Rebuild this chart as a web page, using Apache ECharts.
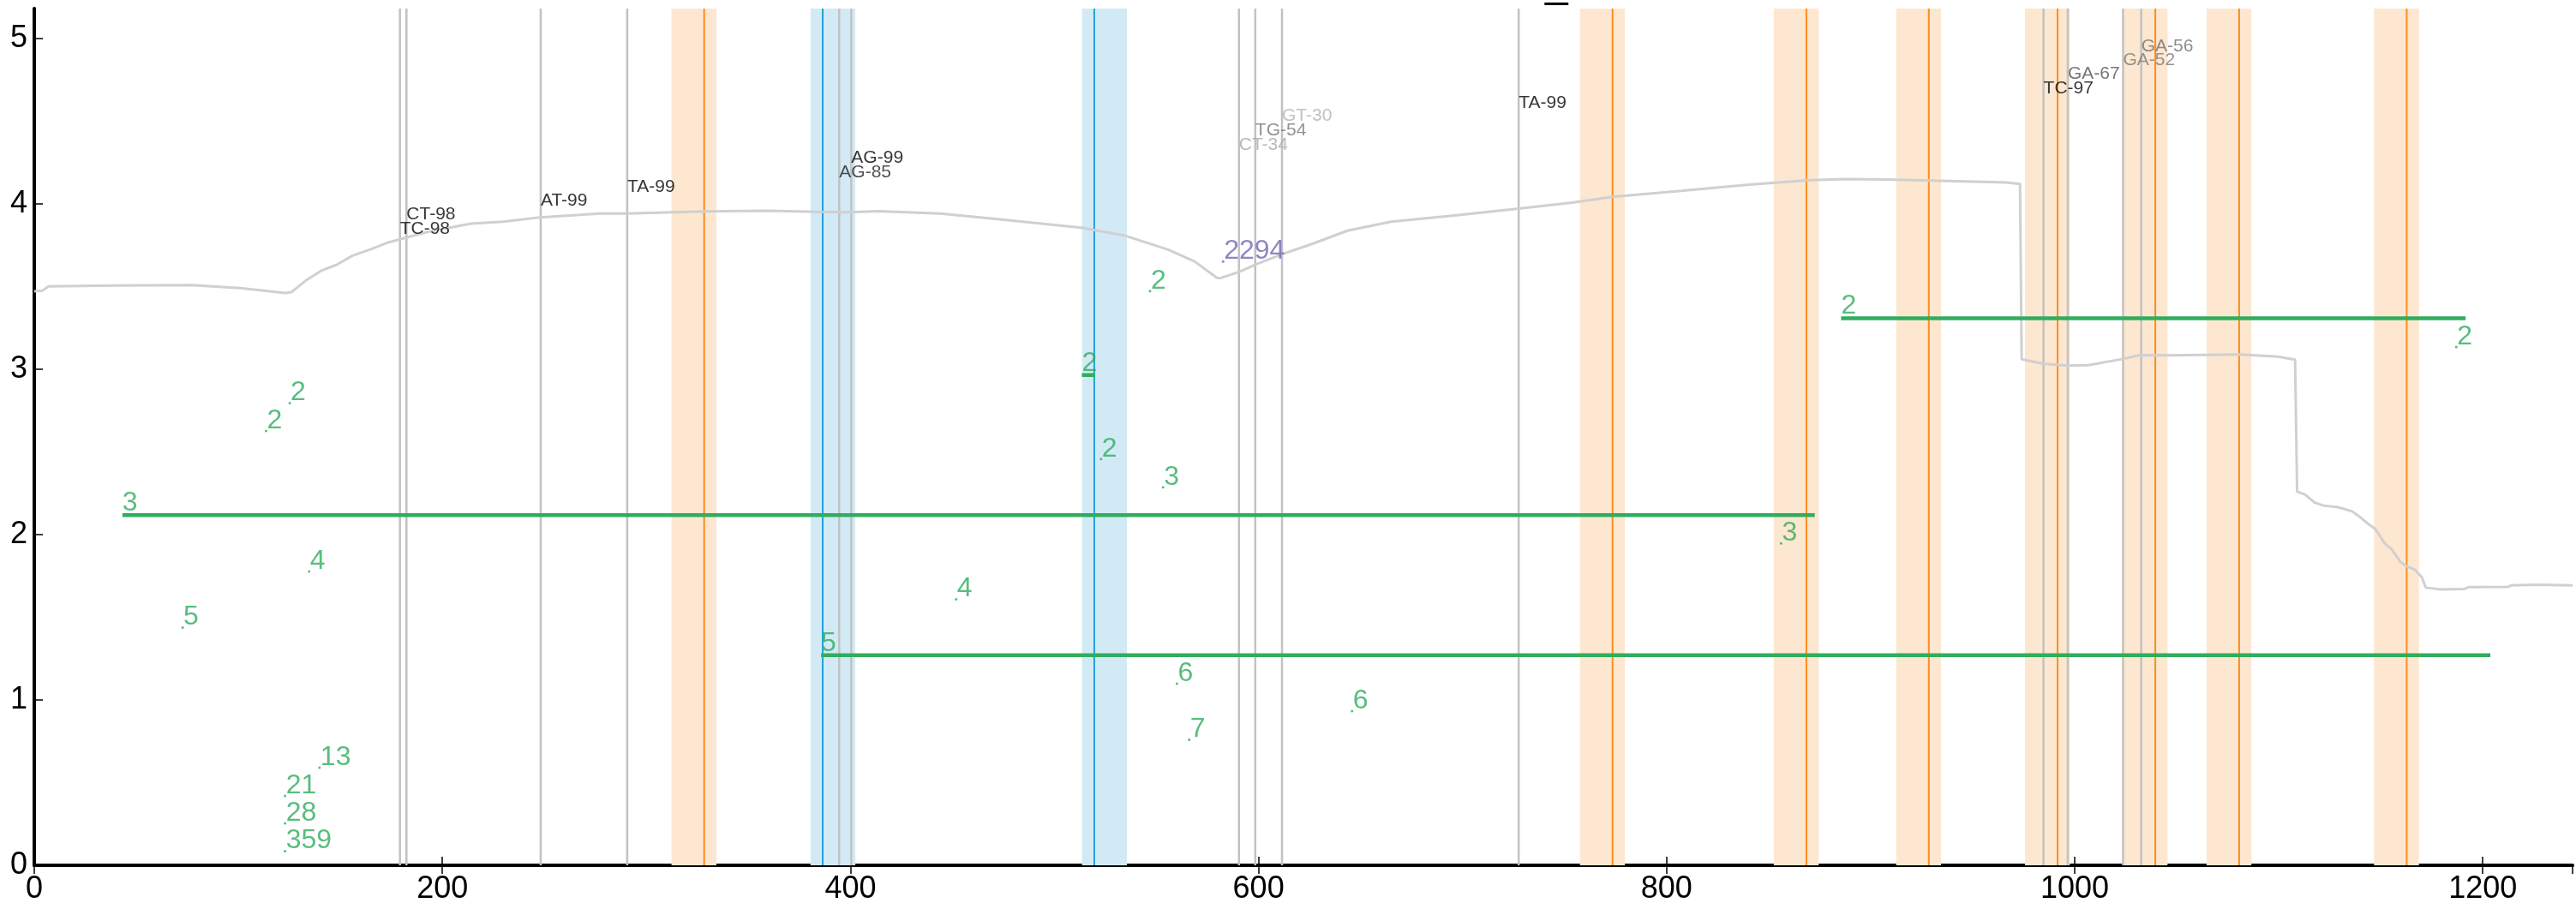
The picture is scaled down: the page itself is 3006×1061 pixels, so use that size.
<!DOCTYPE html>
<html><head><meta charset="utf-8">
<script src="https://cdn.jsdelivr.net/npm/echarts@6/dist/echarts.min.js"></script>
<style>html,body{margin:0;padding:0;background:#fff}#c{width:3006px;height:1061px}</style>
</head><body><div id="c"></div>
<script>
// ---------- data ----------
const xTickValues = [0, 200, 400, 600, 800, 1000, 1200];
const yTickValues = [0, 1, 2, 3, 4, 5];
const X_MAX = 1244, Y_MAX = 5.18;

// grey coverage-like curve
const curveX = [0, 4, 7, 40, 77, 101, 123, 126, 133, 141, 148, 156, 165, 173.5, 182, 193, 214, 230, 248, 277, 290.6, 328, 359, 384.6, 399, 414, 444, 470, 491.5, 513, 534.6, 556, 568.8, 579.6, 581, 590.5, 598.7, 611.6, 626.5, 643.6, 665, 697, 727.5, 753.7, 773.5, 807.2, 839.3, 868.5, 886.5, 907.5, 930, 966.8, 973.2, 974, 984.9, 996.3, 1006.6, 1023.8, 1031.8, 1046.7, 1081, 1099.4, 1108, 1109, 1113, 1117.6, 1122, 1129, 1136, 1140.5, 1144, 1147.3, 1151.9, 1155.3, 1159.9, 1163.3, 1166.8, 1170.2, 1172, 1179.4, 1190.8, 1193, 1212.5, 1214, 1226.3, 1244];
const curveY = [3.47, 3.475, 3.5, 3.505, 3.508, 3.49, 3.46, 3.465, 3.535, 3.597, 3.63, 3.686, 3.725, 3.766, 3.794, 3.83, 3.88, 3.891, 3.918, 3.941, 3.941, 3.953, 3.958, 3.951, 3.948, 3.955, 3.941, 3.909, 3.882, 3.855, 3.807, 3.721, 3.65, 3.552, 3.549, 3.588, 3.633, 3.695, 3.758, 3.837, 3.891, 3.93, 3.971, 4.007, 4.042, 4.078, 4.114, 4.141, 4.149, 4.146, 4.14, 4.128, 4.12, 3.06, 3.032, 3.021, 3.024, 3.062, 3.085, 3.083, 3.088, 3.076, 3.057, 2.259, 2.241, 2.193, 2.175, 2.165, 2.14, 2.099, 2.063, 2.033, 1.947, 1.911, 1.831, 1.804, 1.786, 1.741, 1.679, 1.668, 1.67, 1.682, 1.684, 1.693, 1.697, 1.693];

// grey site lines and their labels
const siteX = [179.2, 182.4, 248.2, 290.6, 394.5, 400.4, 590.4, 598.4, 611.5, 727.5, 984.7, 996.6, 1023.7, 1032.6];
const siteNames = ['TC-98', 'CT-98', 'AT-99', 'TA-99', 'AG-85', 'AG-99', 'CT-34', 'TG-54', 'GT-30', 'TA-99', 'TC-97', 'GA-67', 'GA-52', 'GA-56'];
const siteScores = [98, 98, 99, 99, 85, 99, 34, 54, 30, 99, 97, 67, 52, 56];
const siteLabelY = [3.815, 3.9, 3.985, 4.07, 4.158, 4.244, 4.324, 4.412, 4.497, 4.577, 4.666, 4.75, 4.836, 4.916];

// orange (reverse) lines and bands
const orangeX = [328.3, 773.5, 868.5, 928.5, 991.6, 1039.5, 1080.6, 1162.7];
const orangeBandStart = [312.3, 757.5, 852.5, 912.5, 975.6, 1023.5, 1064.6, 1146.7];
const orangeBandEnd = [334.3, 779.5, 874.5, 934.5, 997.6, 1045.5, 1086.6, 1168.7];
// blue (forward) lines and bands
const blueX = [386.4, 519.5];
const blueBandStart = [380.4, 513.5];
const blueBandEnd = [402.4, 535.5];

// green points
const pointX = [113.6, 125.2, 134.7, 72.7, 139.8, 122.9, 122.9, 122.9, 546.8, 522.8, 553.2, 451.8, 560, 566, 645.8, 856.1, 1187];
const pointY = [2.626, 2.795, 1.777, 1.438, 0.59, 0.42, 0.254, 0.086, 3.472, 2.456, 2.286, 1.608, 1.098, 0.759, 0.932, 1.947, 3.134];
const pointLabels = ['2', '2', '4', '5', '13', '21', '28', '359', '2', '2', '3', '4', '6', '7', '6', '3', '2'];

// green horizontal segments
const segStart = [43.2, 385.6, 885.5, 513.4];
const segEnd = [872.6, 1203.7, 1191.6, 519.9];
const segY = [2.117, 1.27, 3.308, 2.964];
const segLabels = ['3', '5', '2', '2'];

// purple point
const peakX = [582.6];
const peakY = [3.65];
const peakLabels = ['2294'];

// ---------- styles ----------
const FONT = 'Liberation Sans, Arial, sans-serif';
const GREEN = '#30ad5e';
const PURPLE = '#7566b2';
const ORANGE = '#ff8c1a', ORANGE_BAND = '#fde7d0';
const BLUE = '#22a0dc', BLUE_BAND = '#d2eaf6';
const SITE_GREY = '#c2c2c2';

function greyFor(score) {
  const g = Math.max(0, Math.min(255, Math.round((100 - score) * 2.55)));
  const h = g.toString(16).padStart(2, '0');
  return '#' + h + h + h;
}

const chart = echarts.init(document.getElementById('c'), null, {renderer: 'canvas'});

function bandSeries(starts, ends, color, z) {
  return {
    type: 'custom', z: z, silent: true, clip: true,
    xAxisIndex: 0, yAxisIndex: 0,
    data: starts.map((s, i) => [s, ends[i]]),
    encode: {x: [0, 1]},
    renderItem: function (params, api) {
      const p0 = api.coord([api.value(0), 0]);
      const p1 = api.coord([api.value(1), Y_MAX]);
      return {type: 'rect', shape: {x: p0[0], y: p1[1], width: p1[0] - p0[0], height: p0[1] - p1[1]}, style: {fill: color}};
    }
  };
}
function vlineSeries(xs, color, width, z) {
  return {
    type: 'custom', z: z, silent: true, clip: true,
    xAxisIndex: 0, yAxisIndex: 0,
    data: xs.map(x => [x, 0]),
    encode: {x: 0, y: 1},
    renderItem: function (params, api) {
      const p0 = api.coord([api.value(0), 0]);
      const p1 = api.coord([api.value(0), Y_MAX]);
      return {type: 'line', shape: {x1: p0[0], y1: p0[1], x2: p1[0], y2: p1[1]}, style: {stroke: color, lineWidth: width}};
    }
  };
}

const series = [];
series.push(bandSeries(orangeBandStart, orangeBandEnd, ORANGE_BAND, 1));
series.push(bandSeries(blueBandStart, blueBandEnd, BLUE_BAND, 1));
series.push(vlineSeries(siteX, SITE_GREY, 2.5, 2));
series.push(vlineSeries(orangeX, ORANGE, 2, 3));
series.push(vlineSeries(blueX, BLUE, 2, 3));

series.push({
  type: 'line', z: 4, silent: true, symbol: 'none', animation: false,
  data: curveX.map((x, i) => [x, curveY[i]]),
  lineStyle: {color: '#d0d0d0', width: 3}
});

// green segments
segStart.forEach((s, i) => {
  series.push({
    type: 'line', z: 5, silent: true, symbol: 'none', animation: false,
    data: [[s, segY[i]], [segEnd[i], segY[i]]],
    lineStyle: {color: GREEN, width: 4.5, cap: 'butt'}
  });
});
// segment labels
series.push({
  type: 'scatter', z: 6, silent: true, symbolSize: 0, animation: false,
  data: segStart.map((s, i) => ({value: [s, segY[i]], name: segLabels[i]})),
  label: {show: true, position: 'inside', align: 'left', verticalAlign: 'bottom', offset: [0, 2],
    formatter: p => p.name, color: GREEN, fontSize: 32, fontFamily: FONT}
});
// green points
series.push({
  type: 'scatter', z: 6, silent: true, symbol: 'circle', symbolSize: 3, animation: false,
  itemStyle: {color: GREEN},
  data: pointX.map((x, i) => ({value: [x, pointY[i]], name: pointLabels[i]})),
  label: {show: true, position: 'inside', align: 'left', verticalAlign: 'bottom', offset: [1, 4],
    formatter: p => p.name, color: GREEN, fontSize: 32, fontFamily: FONT}
});
// purple
series.push({
  type: 'scatter', z: 6, silent: true, symbol: 'circle', symbolSize: 3, animation: false,
  itemStyle: {color: PURPLE},
  data: peakX.map((x, i) => ({value: [x, peakY[i]], name: peakLabels[i]})),
  label: {show: true, position: 'inside', align: 'left', verticalAlign: 'bottom', offset: [1, 4],
    formatter: p => p.name, color: PURPLE, fontSize: 32, fontFamily: FONT}
});
// site labels
series.push({
  type: 'scatter', z: 6, silent: true, symbolSize: 0, animation: false,
  data: siteX.map((x, i) => ({value: [x, siteLabelY[i]], name: siteNames[i],
    label: {color: greyFor(siteScores[i])}})),
  label: {show: true, position: 'inside', align: 'left', verticalAlign: 'bottom', offset: [0, 4],
    formatter: p => p.name, fontSize: 21, fontFamily: FONT}
});

const axisBase = {
  type: 'value', min: 0, splitLine: {show: false}
};

chart.setOption({
  animation: false,
  backgroundColor: '#fff',
  grid: {left: 40, right: 4, top: 10, bottom: 51, containLabel: false},
  graphic: [{type: 'text', left: 1803, top: -41, silent: true,
    style: {text: '_', font: '48px ' + FONT, fill: '#000'}}],
  xAxis: [
    Object.assign({}, axisBase, {
      max: X_MAX, interval: 200, position: 'bottom',
      axisLine: {show: true, lineStyle: {color: '#000', width: 4}},
      axisTick: {show: true, inside: true, length: 10, lineStyle: {color: '#000', width: 1.5}},
      axisLabel: {show: true, fontSize: 36, color: '#000', fontFamily: FONT, margin: 10, showMaxLabel: false,
        formatter: v => (xTickValues.indexOf(v) >= 0 ? String(v) : '')}
    }),
    Object.assign({}, axisBase, {
      max: X_MAX, interval: 200, position: 'top',
      axisLine: {show: true, lineStyle: {color: '#000', width: 3}},
      axisTick: {show: true, inside: true, length: 10, lineStyle: {color: '#000', width: 1.5}},
      axisLabel: {show: false}
    })
  ],
  yAxis: [
    Object.assign({}, axisBase, {
      max: Y_MAX, interval: 1, position: 'left',
      axisLine: {show: true, lineStyle: {color: '#000', width: 4}},
      axisTick: {show: true, inside: true, length: 10, lineStyle: {color: '#000', width: 1.5}},
      axisLabel: {show: true, fontSize: 36, color: '#000', fontFamily: FONT, margin: 8, showMaxLabel: false,
        formatter: v => (yTickValues.indexOf(v) >= 0 ? String(v) : '')}
    }),
    Object.assign({}, axisBase, {
      max: Y_MAX, interval: 1, position: 'right',
      axisLine: {show: true, lineStyle: {color: '#000', width: 3}},
      axisTick: {show: false},
      axisLabel: {show: false}
    })
  ],
  series: series
});
</script>
</body></html>
